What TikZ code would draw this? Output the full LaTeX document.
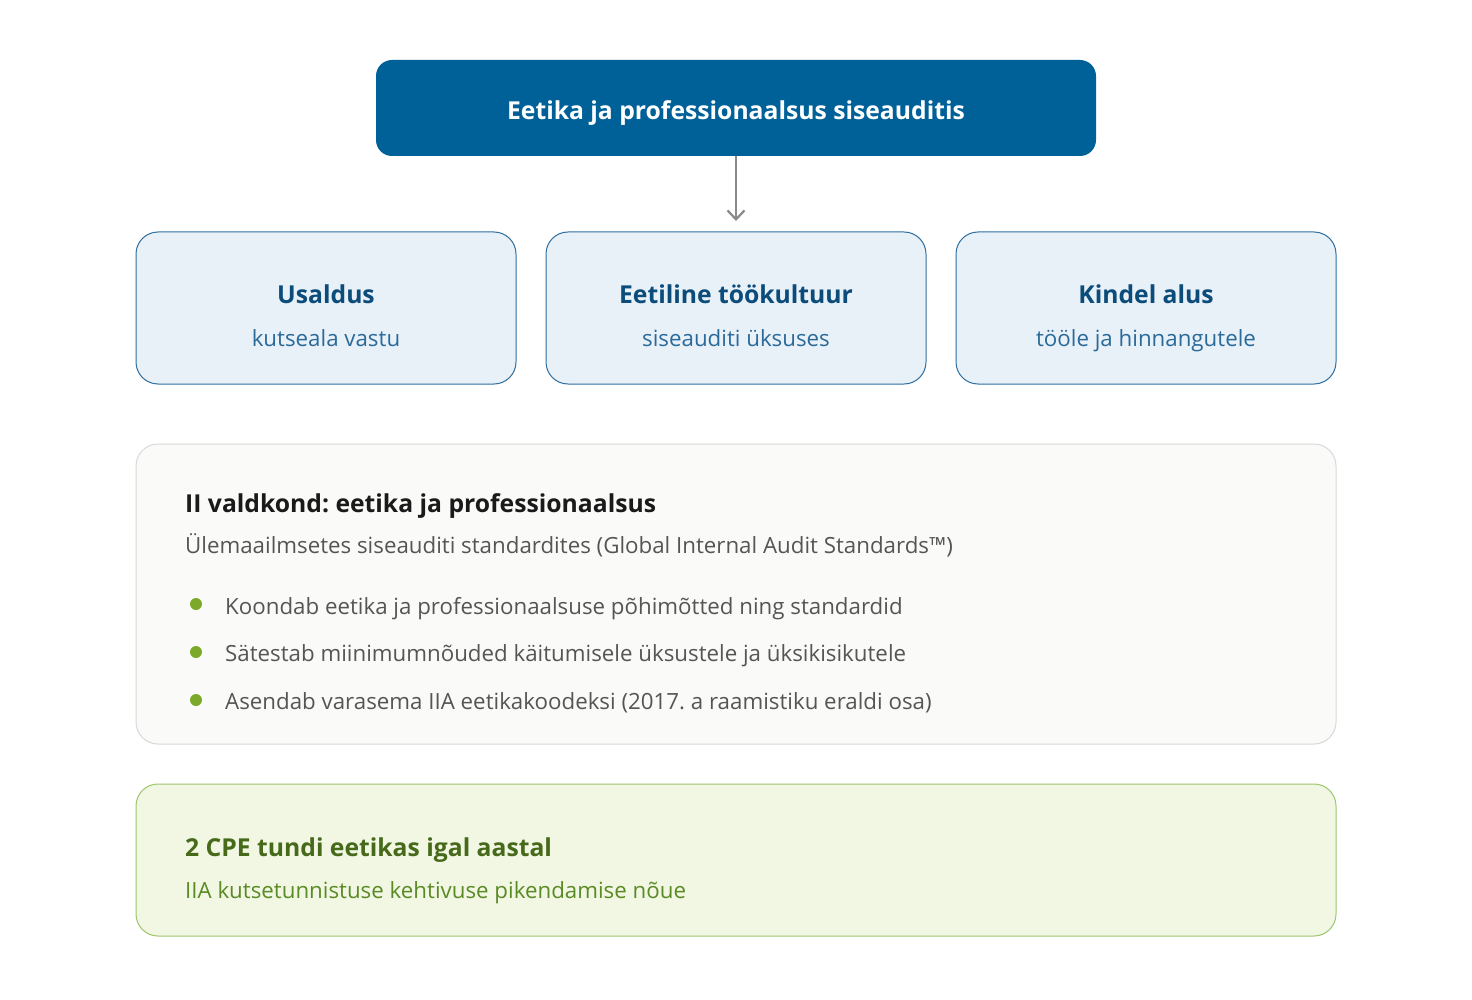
\documentclass[tikz,border=0pt]{standalone}
\usepackage{fontspec}
\setmainfont{Open Sans}
\usetikzlibrary{arrows.meta}
\frenchspacing
\definecolor{topblue}{HTML}{006198}
\definecolor{boxfill}{HTML}{E8F0F8}
\definecolor{boxline}{HTML}{2F6FA0}
\definecolor{boxtitle}{HTML}{0B4C7A}
\definecolor{boxsub}{HTML}{2A6A99}
\definecolor{midfill}{HTML}{FAFAF8}
\definecolor{midline}{HTML}{D9D9D9}
\definecolor{midtitle}{HTML}{1A1A1A}
\definecolor{midtext}{HTML}{555555}
\definecolor{dotgreen}{HTML}{7BAA2B}
\definecolor{grfill}{HTML}{F2F7E4}
\definecolor{grline}{HTML}{9CC66B}
\definecolor{grtitle}{HTML}{46691A}
\definecolor{grsub}{HTML}{5A8A24}
\definecolor{arrowgray}{HTML}{8A8A8A}
\newcommand\titlefont{\fontsize{24.7}{29}\selectfont\bfseries}
\newcommand\subfont{\fontsize{22.3}{26}\selectfont}
\tikzset{
  card/.style={draw=boxline, fill=boxfill, line width=1pt, rounded corners=22pt},
  cardtitle/.style={anchor=base, text=boxtitle, font=\titlefont, inner sep=0pt},
  cardsub/.style={anchor=base, text=boxsub, font=\subfont, inner sep=0pt},
  lefttext/.style={anchor=base west, inner sep=0pt},
}
\begin{document}
\begin{tikzpicture}[x=1pt,y=-1pt]
\useasboundingbox[fill=white] (0,0) rectangle (1472,1000);
% top box
\path[fill=topblue, rounded corners=16pt] (376,60) rectangle (1096,156);
\coordinate (topbot) at (736,156);
\node[anchor=base, text=white, font=\titlefont, inner sep=0pt] (toptxt) at (736,120) {Eetika ja professionaalsus siseauditis};
% three cards
\path[card] (136,232) rectangle (516,384);
\path[card] (546,232) rectangle (926,384);
\path[card] (956,232) rectangle (1336,384);
\coordinate (midtop) at (736,221);
\draw[arrowgray, line width=2.5pt, -{Straight Barb[length=9pt,width=17pt,line width=2.2pt]}] (topbot) -- (midtop);
\node[cardtitle] (t1) at (326,304) {Usaldus};
\node[cardsub] (s1) at (326,346) {kutseala vastu};
\node[cardtitle] (t2) at (736,304) {Eetiline töökultuur};
\node[cardsub] (s2) at (736,346) {siseauditi üksuses};
\node[cardtitle] (t3) at (1146,304) {Kindel alus};
\node[cardsub] (s3) at (1146,346) {tööle ja hinnangutele};
% middle panel
\path[draw=midline, fill=midfill, line width=1pt, rounded corners=22pt] (136,444) rectangle (1336,744);
\node[lefttext, text=midtitle, font=\titlefont] (mt) at (185,512) {II valdkond: eetika ja professionaalsus};
\node[lefttext, text=midtext, font=\subfont] (ms) at (185,553) {Ülemaailmsetes siseauditi standardites (Global Internal Audit Standards™)};
\fill[dotgreen] (196,604) circle (6pt);
\fill[dotgreen] (196,652) circle (6pt);
\fill[dotgreen] (196,700) circle (6pt);
\node[lefttext, text=midtext, font=\subfont] (b1) at (225,614) {Koondab eetika ja professionaalsuse põhimõtted ning standardid};
\node[lefttext, text=midtext, font=\subfont] (b2) at (225,661) {Sätestab miinimumnõuded käitumisele üksustele ja üksikisikutele};
\node[lefttext, text=midtext, font=\subfont] (b3) at (225,709) {Asendab varasema IIA eetikakoodeksi (2017. a raamistiku eraldi osa)};
% bottom panel
\path[draw=grline, fill=grfill, line width=1pt, rounded corners=22pt] (136,784) rectangle (1336,936);
\node[lefttext, text=grtitle, font=\titlefont] (gt) at (185,856) {2 CPE tundi eetikas igal aastal};
\node[lefttext, text=grsub, font=\subfont] (gs) at (185,898) {IIA kutsetunnistuse kehtivuse pikendamise nõue};
\end{tikzpicture}
\end{document}
